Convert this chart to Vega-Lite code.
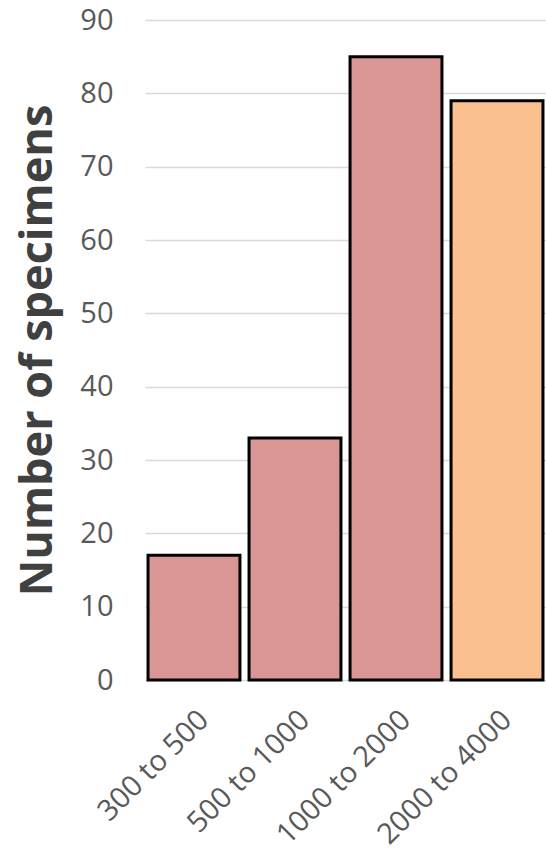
{
  "$schema": "https://vega.github.io/schema/vega-lite/v6.json",
  "autosize": "none",
  "width": 401,
  "height": 660,
  "padding": {"left": 145, "top": 20, "right": 0, "bottom": 176},
  "background": "white",
  "config": {"view": {"stroke": null}, "font": "Open Sans"},
  "data": {"values": [
    {"range": "300 to 500", "count": 17, "group": "a"},
    {"range": "500 to 1000", "count": 33, "group": "a"},
    {"range": "1000 to 2000", "count": 85, "group": "a"},
    {"range": "2000 to 4000", "count": 79, "group": "b"}
  ]},
  "mark": {"type": "bar", "stroke": "black", "strokeWidth": 3},
  "encoding": {
    "x": {"field": "range", "type": "nominal", "sort": null,
      "scale": {"paddingInner": 0.09, "paddingOuter": 0.03},
      "axis": {"title": null, "labelAngle": -45, "labelFontSize": 29, "labelLimit": 0, "labelColor": "#595959", "domain": false, "ticks": false, "labelPadding": 25, "labelDx": -8, "labelFont": "Open Sans"}},
    "y": {"field": "count", "type": "quantitative",
      "scale": {"domain": [0, 90], "nice": false},
      "axis": {"title": "Number of specimens", "titleFontSize": 45, "titleFontWeight": "bold", "titleColor": "#404040", "titleFont": "Open Sans",
        "titleX": -108, "titleY": 330, "titleAngle": -90, "titleAlign": "center", "titleBaseline": "middle", "titleLimit": 0,
        "values": [0,10,20,30,40,50,60,70,80,90], "labelFontSize": 29, "labelColor": "#595959", "labelPadding": 32,
        "domain": false, "ticks": false, "gridColor": "#d9d9d9", "gridWidth": 1.5}},
    "color": {"field": "group", "type": "nominal", "legend": null,
      "scale": {"domain": ["a", "b"], "range": ["#D99694", "#FAC090"]}}
  }
}
